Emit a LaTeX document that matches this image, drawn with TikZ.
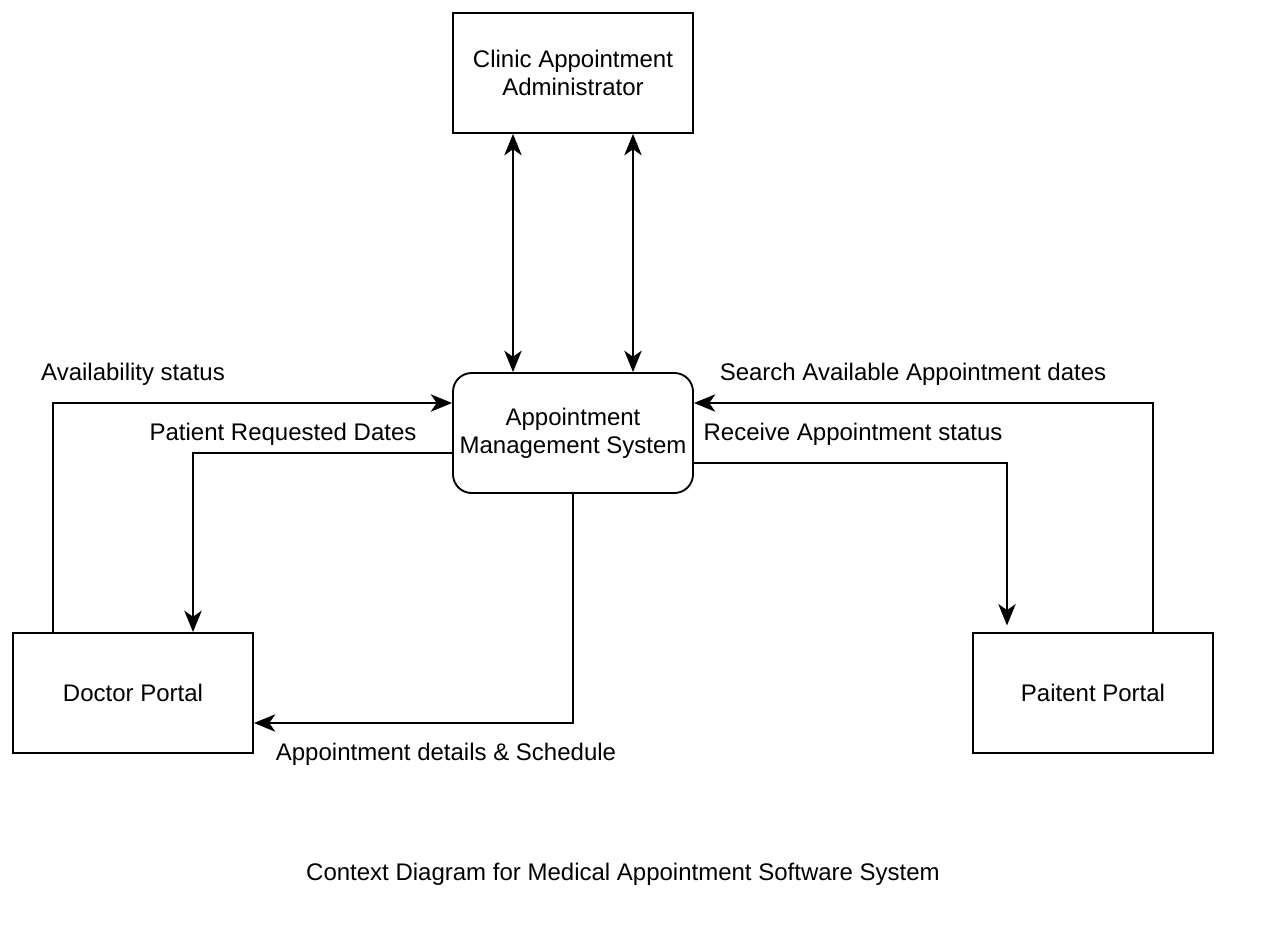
\documentclass[tikz,border=0pt]{standalone}
\usepackage{fontspec}
\setmainfont{Liberation Sans}
\usetikzlibrary{arrows.meta}
\begin{document}
\begin{tikzpicture}[x=0.75pt,y=-0.75pt,
  every node/.style={font=\fontsize{18}{21}\selectfont},
  box/.style={draw, line width=1.4pt, minimum width=180pt, minimum height=90pt, align=center, inner sep=0pt},
  sysbox/.style={box, rounded corners=14pt},
  lbl/.style={inner sep=0pt},
  tip/.tip={Stealth[length=16pt,width=13pt,inset=4.5pt]},
  flow/.style={line width=1.4pt, -tip},
  biflow/.style={line width=1.4pt, tip-tip}
]
\useasboundingbox[fill=white] (0,0) rectangle (1272,946);
\node[box] (admin) at (573,73) {Clinic Appointment\\Administrator};
\node[sysbox] (ams) at (573,433) {Appointment\\Management System};
\node[box] (doctor) at (133,693) {Doctor Portal};
\node[box] (patient) at (1093,693) {Paitent Portal};

\draw[biflow] ([xshift=-45pt]admin.south) -- ([xshift=-45pt]ams.north);
\draw[biflow] ([xshift=45pt]admin.south) -- ([xshift=45pt]ams.north);

\draw[flow] ([xshift=-60pt]doctor.north) |- ([yshift=22.5pt]ams.west);
\draw[flow] ([yshift=-15pt]ams.west) -| ([xshift=45pt]doctor.north);
\draw[flow] ([xshift=45pt]patient.north) |- ([yshift=22.5pt]ams.east);
\draw[flow] ([yshift=-22.5pt]ams.east) -| ([xshift=-64.5pt,yshift=5pt]patient.north);
\draw[flow] (ams.south) |- ([yshift=-22.5pt]doctor.east);

\node[lbl] (l1) at (133,374) {Availability status};
\node[lbl] (l2) at (283,434) {Patient Requested Dates};
\node[lbl] (l3) at (913,374) {Search Available Appointment dates};
\node[lbl] (l4) at (853,434) {Receive Appointment status};
\node[lbl] (l5) at (446,754) {Appointment details \& Schedule};
\node[lbl] (cap) at (623,874) {Context Diagram for Medical Appointment Software System};
\end{tikzpicture}
\end{document}
